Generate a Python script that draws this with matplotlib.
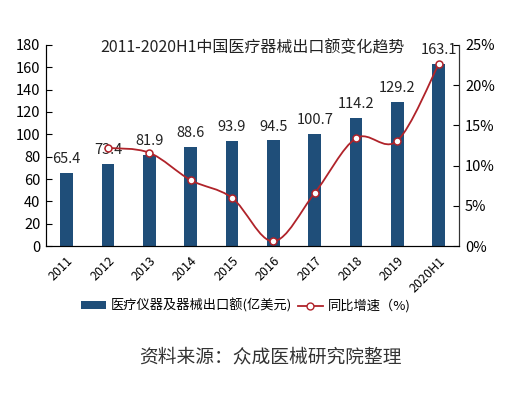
import matplotlib
matplotlib.use("Agg")
import matplotlib.pyplot as plt
import numpy as np
from matplotlib.path import Path
from matplotlib.patches import PathPatch, Patch
from matplotlib.lines import Line2D

plt.rcParams['font.family'] = ['Noto Sans CJK SC', 'DejaVu Sans']

years = ['2011', '2012', '2013', '2014', '2015', '2016', '2017', '2018', '2019', '2020H1']
exports = [65.4, 73.4, 81.9, 88.6, 93.9, 94.5, 100.7, 114.2, 129.2, 163.1]
growth_years = ['2012', '2013', '2014', '2015', '2016', '2017', '2018', '2019', '2020H1']
growth = [12.2, 11.6, 8.2, 6.0, 0.6, 6.6, 13.4, 13.1, 22.6]

bar_color = '#1f4e79'
line_color = '#b0232a'

fig = plt.figure(figsize=(5.32, 3.97), dpi=100)
ax = fig.add_axes([0.0865, 0.380, 0.777, 0.507])
x = np.arange(len(years))
bars = ax.bar(x, exports, width=0.31, color=bar_color, zorder=2)
for xi, v in zip(x, exports):
    ax.annotate(f'{v:.1f}', (xi, v), xytext=(0, 5), textcoords='offset points',
                ha='center', va='bottom', fontsize=10.5, color='#222222')
ax.set_xlim(-0.5, len(years) - 0.5)
ax.set_ylim(0, 180)
ax.set_yticks(range(0, 181, 20))
ax.set_xticks(x)
ax.set_xticklabels(years, rotation=45, ha='right', rotation_mode='anchor', fontsize=9)
ax.tick_params(axis='y', direction='in', length=4, labelsize=10.5, pad=4)
ax.tick_params(axis='x', length=0, pad=6)
ax.spines['top'].set_visible(False)
for s in ['left', 'bottom', 'right']:
    ax.spines[s].set_color('#333333')

ax2 = ax.twinx()
ax2.set_ylim(0, 25)
ax2.set_yticks(range(0, 26, 5))
ax2.set_yticklabels([f'{v}%' for v in range(0, 26, 5)])
ax2.tick_params(axis='y', direction='in', length=4, labelsize=10.5, pad=4)
ax2.spines['top'].set_visible(False)
ax2.spines['right'].set_color('#333333')

gx = np.array([years.index(g) for g in growth_years], dtype=float)
gy = np.array(growth, dtype=float)
pts = np.column_stack([gx, gy])
verts = [pts[0]]
codes = [Path.MOVETO]
n = len(pts)
for i in range(n - 1):
    p0 = pts[i - 1] if i > 0 else pts[i]
    p1 = pts[i]
    p2 = pts[i + 1]
    p3 = pts[i + 2] if i + 2 < n else pts[i + 1]
    c1 = p1 + (p2 - p0) / 6.0
    c2 = p2 - (p3 - p1) / 6.0
    verts += [c1, c2, p2]
    codes += [Path.CURVE4] * 3
ax2.add_patch(PathPatch(Path(verts, codes), fill=False, edgecolor=line_color, lw=1.3, zorder=3))
ax2.plot(gx, gy, linestyle='none', marker='o', markersize=5, markerfacecolor='white',
         markeredgecolor=line_color, markeredgewidth=1.1, zorder=4)

ax.text(0.5, 0.985, '2011-2020H1中国医疗器械出口额变化趋势', transform=ax.transAxes,
        ha='center', va='center', fontsize=11.5, color='#222222', zorder=5)

handles = [Patch(facecolor=bar_color, edgecolor='none'),
           Line2D([0], [0], color=line_color, lw=1.3, marker='o', markersize=5,
                  markerfacecolor='white', markeredgecolor=line_color)]
fig.legend(handles, ['医疗仪器及器械出口额(亿美元)', '同比增速（%)'],
           loc='center', bbox_to_anchor=(0.462, 0.230), ncol=2, frameon=False,
           fontsize=9.5, handlelength=1.9, handleheight=0.5, columnspacing=0.4,
           handletextpad=0.4)

fig.text(0.508, 0.100, '资料来源：众成医械研究院整理', ha='center', va='center',
         fontsize=13.5, color='#333333')

fig.savefig('out.png', dpi=100)
